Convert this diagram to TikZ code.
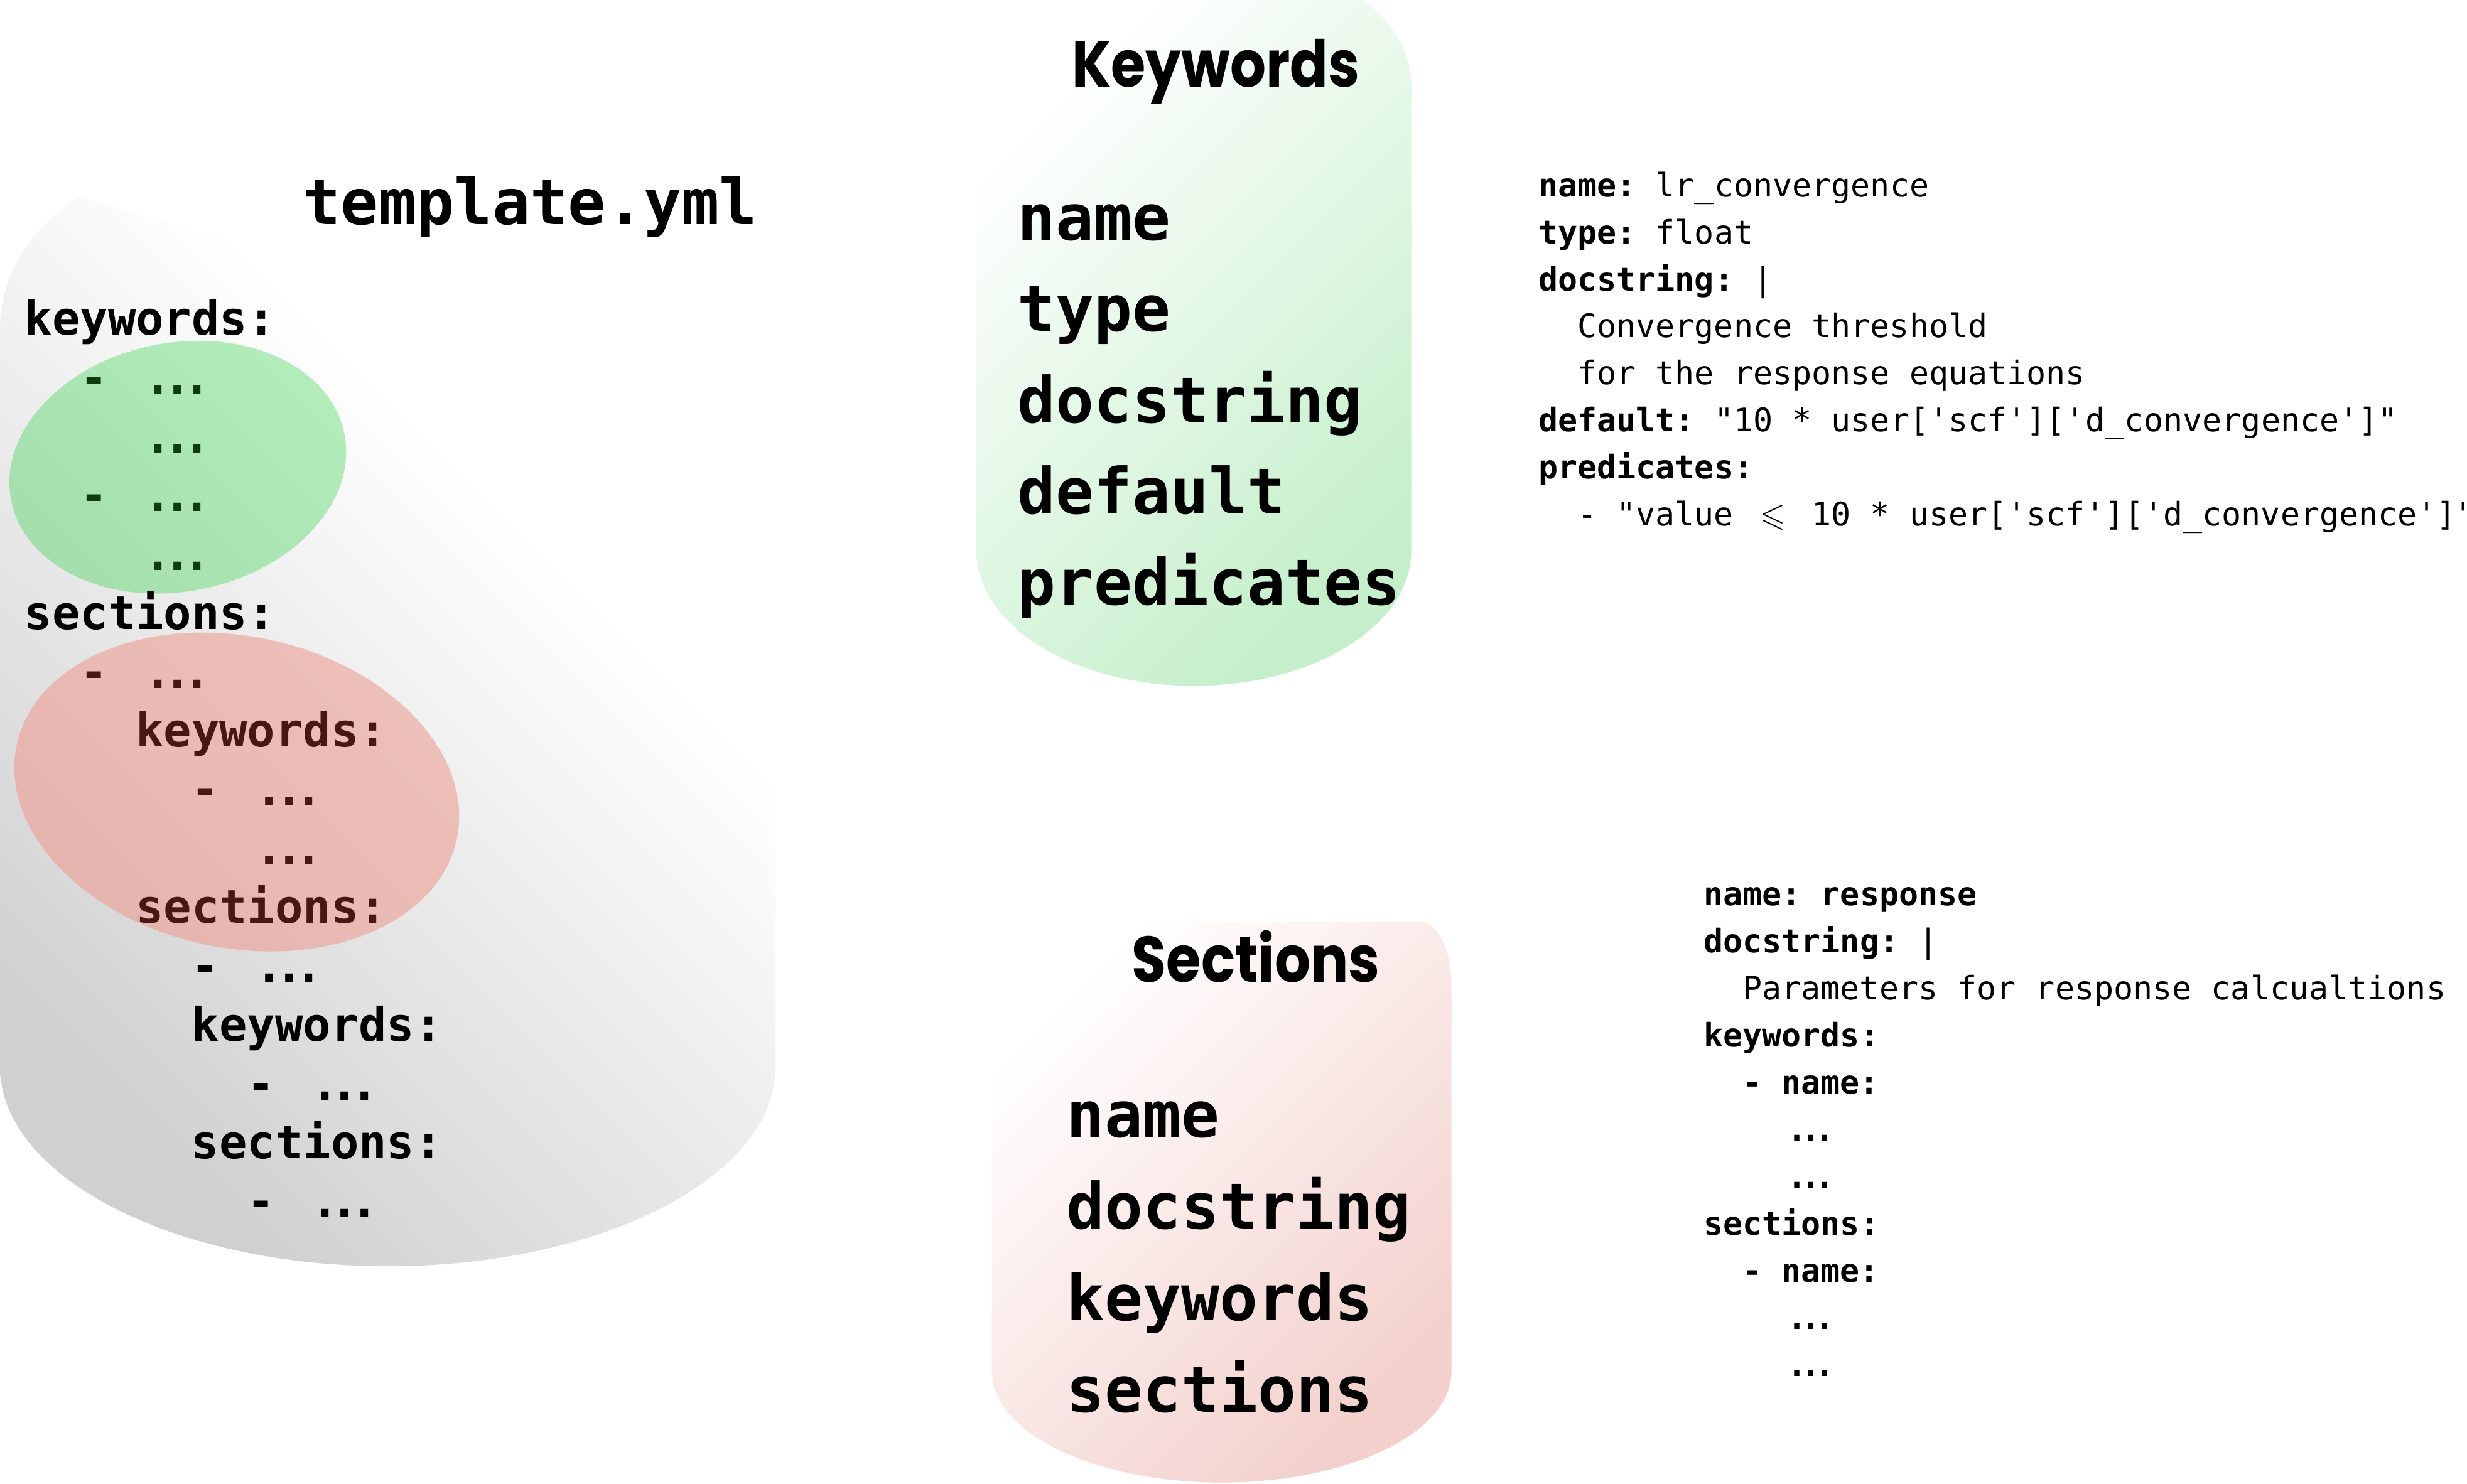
\documentclass[tikz,border=0pt]{standalone}
\usepackage{fontspec}
\usepackage{amssymb}
\setmonofont{DejaVu Sans Mono}
\newfontfamily\titlefont{Poppins}[FakeStretch=0.87]

\definecolor{tplgray}{HTML}{D0D0D0}
\definecolor{kwgreen}{HTML}{C4EFCA}
\definecolor{secred}{HTML}{F3D0CC}
\definecolor{blobgreen}{HTML}{B2ECBB}
\definecolor{blobgreenlo}{HTML}{A4DEAC}
\definecolor{blobred}{HTML}{EEC0BA}
\definecolor{blobredlo}{HTML}{E5B3AD}
\definecolor{txtgreen}{HTML}{0D3D10}
\definecolor{txtred}{HTML}{4A1612}

\pgfdeclareverticalshading{tplshade}{100bp}{color(0bp)=(tplgray); color(25bp)=(tplgray); color(63bp)=(white); color(100bp)=(white)}

\newcommand\ydots{\makebox[1.806em][c]{.\kern-0.18em.\kern-0.18em.}}
\newcommand\leqlig{\makebox[1.204em][c]{$\leqslant$}}

\tikzset{
  tpl/.style={anchor=base west, inner sep=0pt, font=\ttfamily\bfseries\fontsize{21}{25}\selectfont},
  fieldname/.style={anchor=base west, inner sep=0pt, font=\ttfamily\bfseries\fontsize{28.8}{34}\selectfont},
  heading/.style={anchor=base, inner sep=0pt, font=\titlefont\bfseries\fontsize{29.3}{35}\selectfont},
  yaml/.style={anchor=base west, inner sep=0pt, font=\ttfamily\fontsize{14.7}{18}\selectfont},
}

\begin{document}
\begin{tikzpicture}[x=0.025058cm, y=-0.025058cm]
    \useasboundingbox (0,0) rectangle (1568,943.4);

    % background shapes
    \shade[shading=tplshade, shading angle=-45]
        (51,125) -- (493,256) -- (493,678)
        arc[start angle=0, end angle=180, x radius=246.5, y radius=127]
        -- (0,210) .. controls (0,165) and (30,138) .. (51,125) -- cycle;
    \shade[top color=white, bottom color=kwgreen, shading angle=45]
        (620.5,0) -- (867,0) .. controls (885,15) and (897,32) .. (897,55) -- (897,350)
        arc[start angle=0, end angle=180, x radius=138.25, y radius=86] -- cycle;
    \shade[top color=white, bottom color=secred, shading angle=45]
        (630.4,586) -- (905.6,585.7) .. controls (915,590) and (922.5,605) .. (922.5,625) -- (922.5,872)
        arc[start angle=0, end angle=180, x radius=146.05, y radius=70.5] -- cycle;

    % highlighted blocks in the template
    \shade[top color=blobgreen, bottom color=blobgreenlo, shading angle=-45, rotate around={11.4:(113,297)}]
        (113,297) ellipse[x radius=108, y radius=79];
    \shade[top color=blobred, bottom color=blobredlo, shading angle=-45, rotate around={-12.1:(150.5,503.5)}]
        (150.5,503.5) ellipse[x radius=143, y radius=99];

    % template.yml
    \node[heading, font=\ttfamily\bfseries\fontsize{28.5}{34}\selectfont] (tplname) at (337,142.6) {template.yml};
    \node[tpl] (row1) at (15.2,213) {keywords:};
    \node[tpl, txtgreen] (row2) at (50.6,250.4) {- \ydots};
    \node[tpl, txtgreen] (row3) at (86.0,287.8) {\ydots};
    \node[tpl, txtgreen] (row4) at (50.6,325.2) {- \ydots};
    \node[tpl, txtgreen] (row5) at (86.0,362.6) {\ydots};
    \node[tpl] (row6) at (15.2,400) {sections:};
    \node[tpl, txtred] (row7) at (50.6,437.4) {- \ydots};
    \node[tpl, txtred] (row8) at (86.0,474.8) {keywords:};
    \node[tpl, txtred] (row9) at (121.4,512.2) {- \ydots};
    \node[tpl, txtred] (row10) at (156.8,549.6) {\ydots};
    \node[tpl, txtred] (row11) at (86.0,587) {sections:};
    \node[tpl] (row12) at (121.4,624.4) {- \ydots};
    \node[tpl] (row13) at (121.4,661.8) {keywords:};
    \node[tpl] (row14) at (156.8,699.2) {- \ydots};
    \node[tpl] (row15) at (121.4,736.6) {sections:};
    \node[tpl] (row16) at (156.8,774) {- \ydots};

    % Keywords
    \node[heading] (kwtitle) at (772.7,55.2) {Keywords};
    \node[fieldname] (kwname) at (646.5,152.6) {name};
    \node[fieldname] (kwtype) at (646.5,210.6) {type};
    \node[fieldname] (kwdoc) at (646.5,268.6) {docstring};
    \node[fieldname] (kwdefault) at (646.5,326.6) {default};
    \node[fieldname] (kwpred) at (646.5,384.6) {predicates};

    \node[yaml] (kwex1) at (977.5,125) {\textbf{name:} lr\_convergence};
    \node[yaml] (kwex2) at (977.5,154.9) {\textbf{type:} float};
    \node[yaml] (kwex3) at (977.5,184.8) {\textbf{docstring:} |};
    \node[yaml] (kwex4) at (1002.3,214.7) {Convergence threshold};
    \node[yaml] (kwex5) at (1002.3,244.6) {for the response equations};
    \node[yaml] (kwex6) at (977.5,274.5) {\textbf{default:} "10 * user['scf']['d\_convergence']"};
    \node[yaml] (kwex7) at (977.5,304.4) {\textbf{predicates:}};
    \node[yaml] (kwex8) at (1002.3,334.3) {- "value \leqlig{} 10 * user['scf']['d\_convergence']"};

    % Sections
    \node[heading] (sectitle) at (798.2,624.4) {Sections};
    \node[fieldname] (secname) at (677.6,723) {name};
    \node[fieldname] (secdoc) at (677.6,781.3) {docstring};
    \node[fieldname] (seckw) at (677.6,839.6) {keywords};
    \node[fieldname] (secsec) at (677.6,897.9) {sections};

    \node[yaml] (secex1) at (1082.5,575.8) {\textbf{name: response}};
    \node[yaml] (secex2) at (1082.5,605.7) {\textbf{docstring:} |};
    \node[yaml] (secex3) at (1107.3,635.6) {Parameters for response calcualtions};
    \node[yaml] (secex4) at (1082.5,665.5) {\textbf{keywords:}};
    \node[yaml] (secex5) at (1107.3,695.4) {\textbf{- name:}};
    \node[yaml] (secex6) at (1132.1,725.3) {\textbf{\ydots}};
    \node[yaml] (secex7) at (1132.1,755.2) {\textbf{\ydots}};
    \node[yaml] (secex8) at (1082.5,785.1) {\textbf{sections:}};
    \node[yaml] (secex9) at (1107.3,815) {\textbf{- name:}};
    \node[yaml] (secex10) at (1132.1,844.9) {\textbf{\ydots}};
    \node[yaml] (secex11) at (1132.1,874.8) {\textbf{\ydots}};
\end{tikzpicture}
\end{document}
